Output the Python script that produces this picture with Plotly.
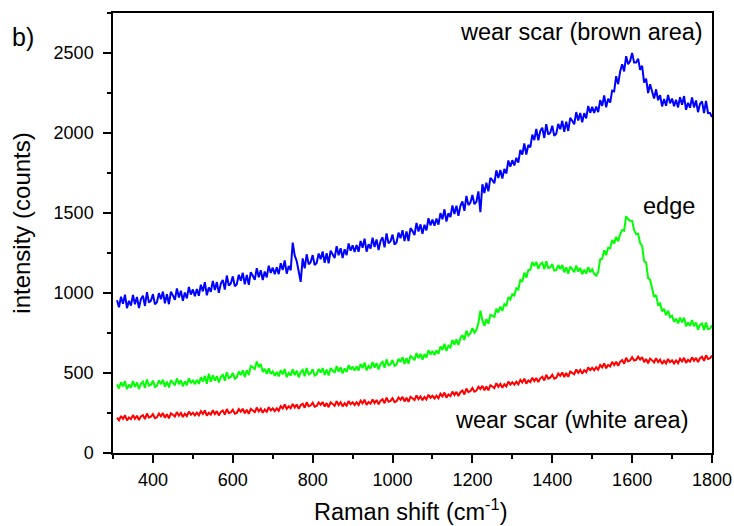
import plotly.graph_objects as go

# Raman shift grid (cm^-1), 5 cm^-1 steps
raman_shift = list(range(310, 1801, 5))

# wear scar (brown area) - blue
brown_area = [
    955, 911, 977, 933, 989, 905, 951, 922, 988, 929, 975, 906, 962, 983, 919, 1005, 941, 952, 993, 929,
    942, 999, 961, 1009, 936, 993, 930, 1008, 985, 957, 1029, 972, 1014, 951, 1003, 966, 1038, 990, 1022, 980,
    1025, 983, 1052, 1010, 1068, 986, 1035, 1008, 1076, 1019, 1068, 1001, 1059, 1082, 1021, 1109, 1047, 1060, 1104, 1042,
    1055, 1114, 1077, 1126, 1054, 1113, 1051, 1130, 1108, 1082, 1155, 1099, 1142, 1081, 1134, 1098, 1171, 1125, 1158, 1117,
    1160, 1118, 1186, 1144, 1203, 1121, 1169, 1142, 1315, 1235, 1200, 1135, 1070, 1216, 1154, 1242, 1180, 1193, 1237, 1175,
    1188, 1247, 1211, 1260, 1189, 1248, 1186, 1265, 1244, 1218, 1292, 1236, 1280, 1219, 1273, 1237, 1310, 1264, 1298, 1257,
    1300, 1258, 1325, 1283, 1340, 1258, 1305, 1278, 1345, 1288, 1335, 1268, 1325, 1348, 1285, 1373, 1310, 1323, 1365, 1303,
    1316, 1377, 1342, 1393, 1324, 1384, 1325, 1406, 1387, 1362, 1438, 1384, 1429, 1370, 1426, 1391, 1467, 1423, 1459, 1420,
    1465, 1427, 1499, 1461, 1523, 1446, 1498, 1475, 1547, 1494, 1546, 1483, 1545, 1572, 1514, 1607, 1549, 1566, 1613, 1555,
    1570, 1635, 1505, 1680, 1625, 1690, 1635, 1720, 1705, 1686, 1767, 1718, 1769, 1715, 1776, 1747, 1828, 1789, 1830, 1797,
    1845, 1815, 1895, 1865, 1935, 1865, 1925, 1910, 1990, 1955, 2025, 1955, 2012, 2033, 1969, 2055, 1991, 2002, 2045, 1982,
    1995, 2057, 2024, 2076, 2008, 2071, 2013, 2095, 2077, 2054, 2131, 2078, 2125, 2067, 2124, 2092, 2169, 2126, 2163, 2125,
    2165, 2130, 2205, 2170, 2235, 2160, 2215, 2190, 2265, 2260, 2355, 2305, 2385, 2430, 2385, 2480, 2430, 2450, 2500, 2440,
    2440, 2465, 2395, 2420, 2315, 2340, 2250, 2305, 2260, 2215, 2273, 2205, 2237, 2166, 2212, 2170, 2238, 2186, 2215, 2168,
    2207, 2160, 2224, 2177, 2231, 2145, 2189, 2158, 2222, 2160, 2203, 2130, 2182, 2198, 2125, 2200, 2125, 2125, 2100,
]

# edge - green
edge = [
    429, 403, 442, 416, 449, 399, 427, 409, 449, 413, 441, 400, 433, 446, 407, 459, 421, 427, 452, 413,
    420, 454, 430, 458, 414, 447, 409, 455, 440, 423, 466, 430, 455, 417, 447, 424, 467, 437, 456, 430,
    457, 432, 473, 447, 482, 433, 495, 446, 486, 452, 481, 441, 476, 489, 452, 505, 468, 476, 501, 464,
    473, 509, 487, 517, 476, 517, 488, 543, 535, 525, 572, 536, 557, 506, 526, 494, 529, 494, 510, 482,
    506, 479, 518, 491, 525, 474, 501, 484, 523, 487, 515, 473, 506, 519, 480, 531, 492, 498, 523, 484,
    491, 525, 503, 531, 488, 522, 484, 531, 517, 501, 544, 509, 535, 497, 529, 506, 549, 521, 540, 515,
    541, 516, 556, 531, 565, 516, 544, 528, 568, 534, 562, 522, 557, 570, 533, 585, 548, 555, 581, 544,
    553, 589, 569, 599, 557, 594, 558, 606, 595, 580, 625, 593, 620, 584, 618, 597, 642, 616, 637, 613,
    641, 620, 665, 644, 683, 638, 671, 660, 706, 677, 711, 676, 717, 737, 706, 765, 734, 748, 781, 752,
    768, 811, 890, 829, 794, 837, 808, 863, 858, 850, 902, 878, 915, 888, 931, 919, 974, 959, 992, 985,
    1029, 1022, 1081, 1074, 1127, 1096, 1143, 1145, 1194, 1168, 1195, 1151, 1181, 1190, 1149, 1198, 1156, 1160, 1181, 1140,
    1143, 1175, 1149, 1175, 1129, 1161, 1121, 1165, 1149, 1130, 1171, 1134, 1157, 1117, 1146, 1121, 1162, 1131, 1148, 1120,
    1109, 1132, 1211, 1214, 1267, 1236, 1283, 1280, 1332, 1310, 1351, 1323, 1368, 1393, 1389, 1480, 1461, 1452, 1451, 1392,
    1368, 1371, 1312, 1294, 1199, 1192, 1093, 1083, 1028, 975, 987, 926, 935, 886, 901, 862, 889, 849, 857, 820,
    839, 810, 846, 816, 846, 792, 816, 795, 831, 792, 816, 771, 801, 810, 768, 816, 774, 777, 798,
]

# wear scar (white area) - red
white_area = [
    221, 204, 231, 213, 236, 203, 222, 211, 237, 214, 233, 206, 229, 237, 212, 247, 222, 227, 243, 218,
    223, 246, 230, 249, 220, 243, 217, 248, 239, 228, 256, 233, 250, 225, 245, 230, 259, 240, 252, 235,
    252, 235, 261, 244, 266, 233, 252, 240, 267, 243, 262, 235, 257, 266, 240, 275, 250, 254, 271, 246,
    251, 274, 258, 277, 248, 270, 245, 276, 266, 255, 284, 260, 277, 252, 272, 257, 286, 266, 279, 262,
    279, 264, 293, 278, 303, 276, 292, 280, 307, 284, 303, 276, 299, 308, 283, 317, 292, 297, 314, 289,
    294, 316, 301, 319, 290, 312, 286, 317, 307, 295, 324, 300, 317, 291, 311, 296, 324, 305, 317, 300,
    317, 300, 327, 310, 333, 300, 319, 308, 335, 312, 331, 304, 327, 336, 311, 346, 321, 326, 343, 318,
    324, 347, 332, 351, 322, 345, 320, 351, 342, 331, 360, 337, 354, 329, 350, 335, 364, 345, 358, 341,
    358, 342, 370, 354, 378, 346, 366, 356, 384, 362, 382, 356, 380, 390, 366, 403, 380, 387, 406, 383,
    390, 414, 400, 420, 392, 416, 392, 424, 416, 406, 436, 414, 432, 408, 430, 416, 446, 428, 442, 427,
    445, 429, 457, 441, 465, 433, 453, 443, 471, 449, 469, 443, 467, 477, 453, 489, 465, 471, 489, 465,
    471, 496, 482, 503, 475, 500, 476, 509, 501, 492, 522, 501, 519, 496, 518, 505, 535, 518, 532, 517,
    536, 521, 550, 535, 560, 529, 550, 541, 570, 549, 570, 545, 570, 581, 558, 595, 572, 579, 599, 578,
    582, 602, 584, 600, 568, 588, 561, 590, 579, 566, 593, 568, 584, 557, 577, 560, 588, 567, 579, 560,
    578, 561, 589, 572, 595, 563, 582, 571, 598, 576, 595, 568, 592, 601, 576, 611, 587, 592, 609,
]

x_ticks = [400, 600, 800, 1000, 1200, 1400, 1600, 1800]
y_ticks = [0, 500, 1000, 1500, 2000, 2500]

FONT = "Liberation Sans, Arial, Helvetica, sans-serif"

fig = go.Figure()
fig.add_trace(go.Scatter(x=raman_shift, y=brown_area, mode="lines",
                         line=dict(color="#0000ff", width=2), name="wear scar (brown area)"))
fig.add_trace(go.Scatter(x=raman_shift, y=edge, mode="lines",
                         line=dict(color="#00ff00", width=2), name="edge"))
fig.add_trace(go.Scatter(x=raman_shift, y=white_area, mode="lines",
                         line=dict(color="#ff0000", width=2), name="wear scar (white area)"))

axis_common = dict(showline=True, linecolor="black", linewidth=1.5, mirror=True,
                   ticks="outside", ticklen=8, tickwidth=1.5, tickcolor="black",
                   showgrid=False, zeroline=False, automargin=False,
                   tickfont=dict(family=FONT, size=18, color="black"))

fig.update_xaxes(range=[300, 1800], tickvals=x_ticks, ticklabelstandoff=2,
                 minor=dict(ticks="outside", ticklen=4, tickwidth=1.5, tickcolor="black",
                            dtick=100, tick0=0, showgrid=False),
                 **axis_common)
fig.update_yaxes(range=[0, 2750], tickvals=y_ticks, ticklabelstandoff=6,
                 minor=dict(ticks="outside", ticklen=4, tickwidth=1.5, tickcolor="black",
                            dtick=250, tick0=0, showgrid=False),
                 **axis_common)

ann_font = dict(family=FONT, size=23.5, color="black")
annotations = [
    dict(text="wear scar (brown area)", x=1783, y=2629, xref="x", yref="y",
         xanchor="right", yanchor="middle", showarrow=False, font=ann_font),
    dict(text="edge", x=1763, y=1545, xref="x", yref="y",
         xanchor="right", yanchor="middle", showarrow=False, font=ann_font),
    dict(text="wear scar (white area)", x=1746, y=204, xref="x", yref="y",
         xanchor="right", yanchor="middle", showarrow=False, font=ann_font),
    dict(text="b)", x=-0.172, y=0.945, xref="paper", yref="paper",
         xanchor="left", yanchor="middle", showarrow=False,
         font=dict(family=FONT, size=25, color="black")),
    dict(text="Raman shift (cm<sup>-1</sup>)", x=0.497, y=-0.13, xref="paper", yref="paper",
         xanchor="center", yanchor="middle", showarrow=False, font=ann_font),
    dict(text="intensity (counts)", x=-0.153, y=0.522, xref="paper", yref="paper",
         xanchor="center", yanchor="middle", textangle=-90, showarrow=False,
         font=dict(family=FONT, size=24, color="black")),
]

fig.update_layout(width=734, height=526, margin=dict(l=113, r=22, t=13, b=73),
                  plot_bgcolor="white", paper_bgcolor="white", showlegend=False,
                  annotations=annotations)

fig.write_html("out.html")
